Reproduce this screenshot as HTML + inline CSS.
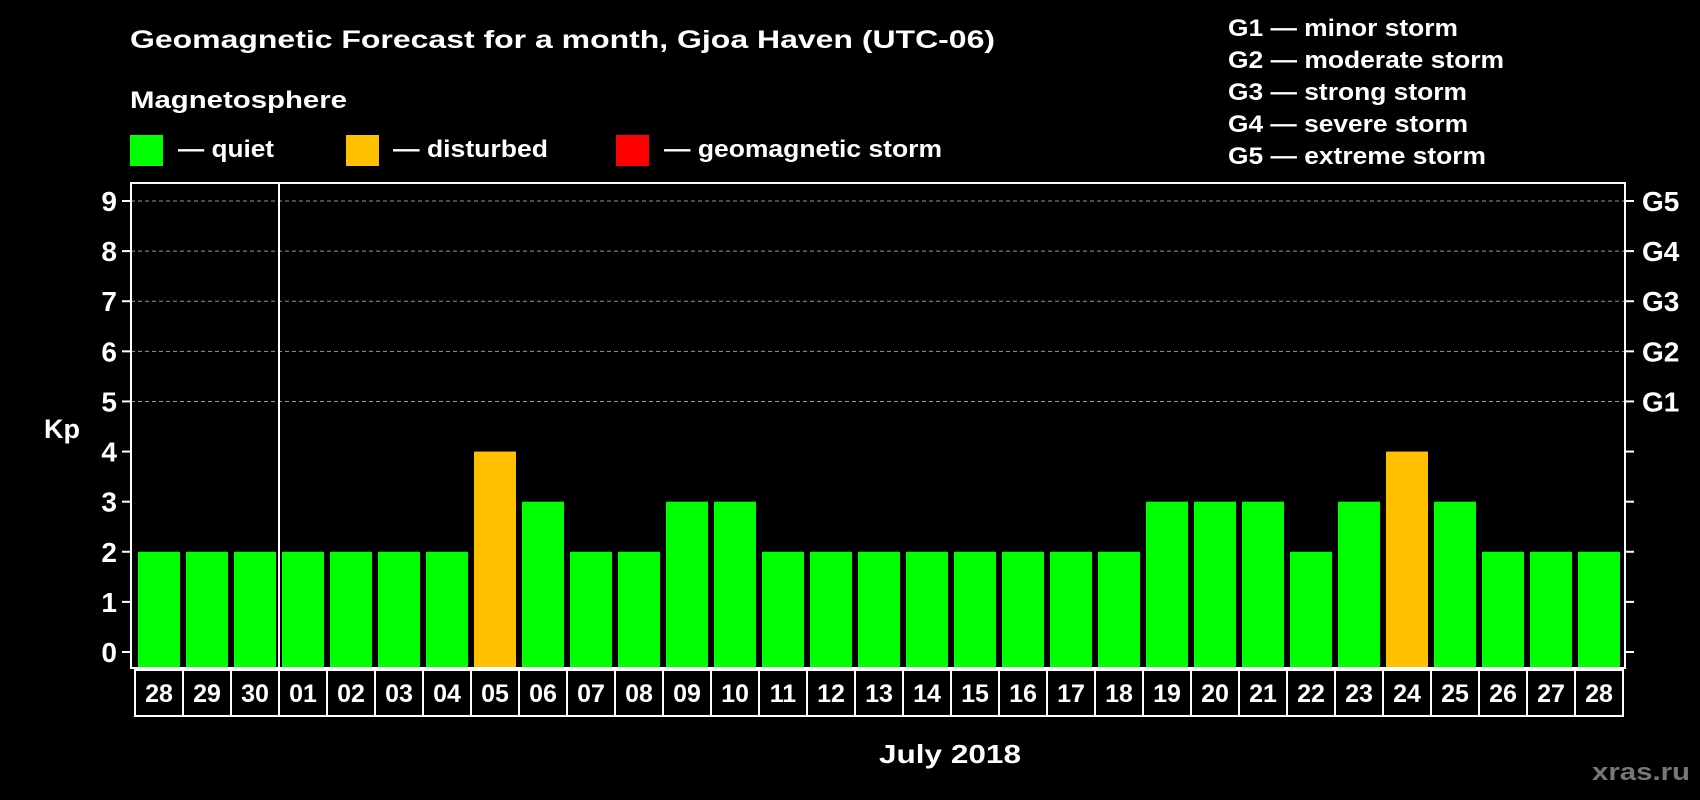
<!DOCTYPE html>
<html><head><meta charset="utf-8"><style>
html,body{margin:0;padding:0;background:#000;}
svg{display:block;font-family:"Liberation Sans",sans-serif;font-weight:bold;}
</style></head><body>
<svg id="chart" width="1700" height="800" viewBox="0 0 1700 800">
<text x="130" y="48" font-size="25" fill="#fff" textLength="865" lengthAdjust="spacingAndGlyphs">Geomagnetic Forecast for a month, Gjoa Haven (UTC-06)</text>
<text x="130" y="108" font-size="24" fill="#fff" textLength="217" lengthAdjust="spacingAndGlyphs">Magnetosphere</text>
<g>
<rect x="130" y="135" width="33" height="31" fill="#00ff00"/>
<text x="178" y="157" font-size="24" fill="#fff" textLength="96" lengthAdjust="spacingAndGlyphs">— quiet</text></g>
<g>
<rect x="346" y="135" width="33" height="31" fill="#ffc000"/>
<text x="393" y="157" font-size="24" fill="#fff" textLength="155" lengthAdjust="spacingAndGlyphs">— disturbed</text></g>
<g>
<rect x="616" y="135" width="33" height="31" fill="#ff0000"/>
<text x="664" y="157" font-size="24" fill="#fff" textLength="278" lengthAdjust="spacingAndGlyphs">— geomagnetic storm</text></g>
<g font-size="24" fill="#fff" lengthAdjust="spacingAndGlyphs">
<text x="1228" y="36" textLength="230" lengthAdjust="spacingAndGlyphs">G1 — minor storm</text>
<text x="1228" y="68" textLength="276" lengthAdjust="spacingAndGlyphs">G2 — moderate storm</text>
<text x="1228" y="100" textLength="239" lengthAdjust="spacingAndGlyphs">G3 — strong storm</text>
<text x="1228" y="132" textLength="240" lengthAdjust="spacingAndGlyphs">G4 — severe storm</text>
<text x="1228" y="164" textLength="258" lengthAdjust="spacingAndGlyphs">G5 — extreme storm</text>
</g>
<text x="62" y="438" font-size="27" fill="#fff" text-anchor="middle">Kp</text>
<text x="950" y="763" font-size="26" fill="#fff" text-anchor="middle" textLength="142" lengthAdjust="spacingAndGlyphs">July 2018</text>
<text x="1690" y="780" font-size="24" fill="#777" text-anchor="end" textLength="98" lengthAdjust="spacingAndGlyphs">xras.ru</text>
<g id="plot"></g>
</svg>
<script>
const days = ["28","29","30","01","02","03","04","05","06","07","08","09","10","11","12","13","14","15","16","17","18","19","20","21","22","23","24","25","26","27","28"];
const kpValues = [2,2,2,2,2,2,2,4,3,2,2,3,3,2,2,2,2,2,2,2,2,3,3,3,2,3,4,3,2,2,2];
const yTicks = [0,1,2,3,4,5,6,7,8,9];
const gLabels = {5:"G1",6:"G2",7:"G3",8:"G4",9:"G5"};
const NS="http://www.w3.org/2000/svg";
const g=document.getElementById('plot');
const L=131,R=1625,T=183,B=668;
const y=v=>652-v*(451/9);
const x0=138, step=48, bw=42;
const xb=i=>x0+i*step;
function mk(tag,attrs){const e=document.createElementNS(NS,tag);for(const k in attrs)e.setAttribute(k,attrs[k]);g.appendChild(e);return e;}
yTicks.forEach(t=>{
  if(t>=5){const gl=mk('line',{x1:L,x2:R,y1:y(t),y2:y(t),stroke:'#999','stroke-width':1,'stroke-dasharray':'4,3'});
  
  }
  const tl=mk('line',{x1:L-9,x2:L,y1:y(t),y2:y(t),stroke:'#fff','stroke-width':2});
  
  
  const tr=mk('line',{x1:R,x2:R+9,y1:y(t),y2:y(t),stroke:'#fff','stroke-width':2});
  
  
  const lb=mk('text',{x:L-14,y:y(t)+10,'font-size':28,fill:'#fff','text-anchor':'end'});
  lb.textContent=t;
  
  
  if(gLabels[t]){const gl2=mk('text',{x:R+17,y:y(t)+10,'font-size':28,fill:'#fff'});
  gl2.textContent=gLabels[t];
  
  }
});
kpValues.forEach((v,i)=>{
  const r=mk('rect',{x:xb(i),y:y(v),width:bw,height:B-y(v),fill:v>=5?'#ff0000':(v>=4?'#ffc000':'#00ff00')});
  
  
});
const frame=mk('rect',{x:L,y:T,width:R-L,height:B-T,fill:'none',stroke:'#fff','stroke-width':2});


const div=mk('line',{x1:xb(3)-3,x2:xb(3)-3,y1:T,y2:B,stroke:'#fff','stroke-width':2});


const cellL=135, cellT=670, cellB=716;
days.forEach((d,i)=>{
  const c=mk('rect',{x:cellL+i*step,y:cellT,width:step,height:cellB-cellT,fill:'none',stroke:'#fff','stroke-width':2});
  
  
  const t=mk('text',{x:cellL+i*step+step/2,y:702,'font-size':25,fill:'#fff','text-anchor':'middle'});
  t.textContent=d;
  
  
});
</script>
</body></html>
